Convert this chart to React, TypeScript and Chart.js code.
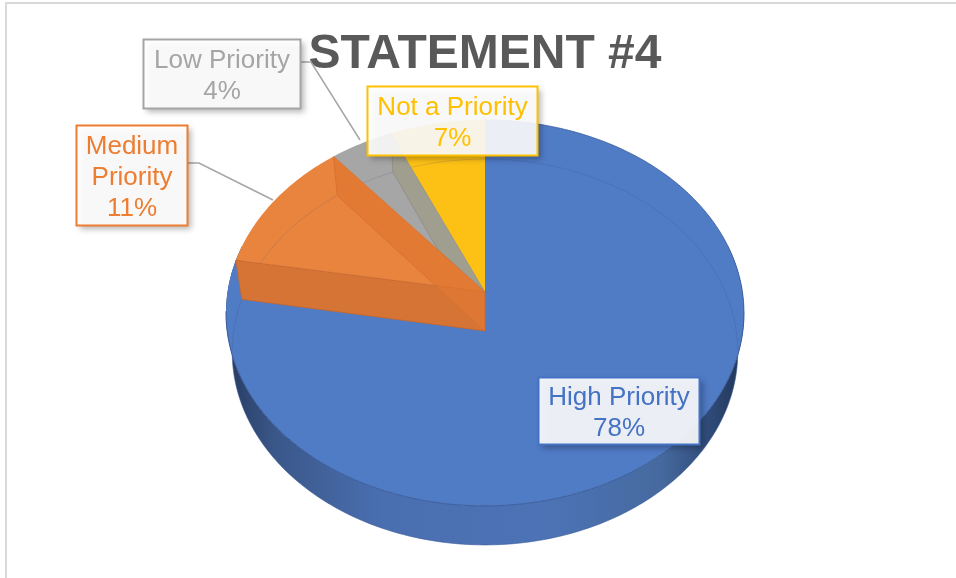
import React, { useEffect, useRef } from "react";
import { Chart, registerables } from "chart.js";

Chart.register(...registerables);

const categories = ["High Priority", "Medium Priority", "Low Priority", "Not a Priority"];
const values = [77.7, 11.3, 4.4, 6.6];
const sliceColors = ["#507BC5", "#E9843F", "#A6A6A6", "#FDC116"];
const labelColors = ["#4472C4", "#ED7D31", "#A5A5A5", "#FFC000"];
const labelLines = [
  ["High Priority"],
  ["Medium", "Priority"],
  ["Low Priority"],
  ["Not a Priority"],
];
const FONT = '"Liberation Sans", Arial, sans-serif';

// perspective of the tilted disc, as ratios of the pie radius
const K = 0.1088;
const TOP_RX = 1.334;
const BOT_RX = 1.302;
const RY = 0.988;
const APEX_UP = 0.109;
const DEPTH = 0.202;

// label boxes [x, y, w, h] in page pixels
const boxes = [
  [538.5, 377.5, 161, 67],
  [76.5, 125.5, 111, 100],
  [143.5, 39.5, 157, 69],
  [367.5, 86.5, 170, 69],
];
const leaders = [
  [],
  [[188, 163], [199, 163], [273, 200]],
  [[300, 62], [311, 62], [360, 140]],
  [],
];

function makeProjector(el: any) {
  const r = el.outerRadius;
  const cx = el.x;
  const ay = el.y - APEX_UP * r;
  const top = (a: number) => {
    const u = Math.cos(a), v = Math.sin(a), d = 1 - K * v;
    return [cx + (TOP_RX * r * u) / d, ay + (RY * r * v) / d];
  };
  const bot = (a: number) => {
    const u = Math.cos(a), v = Math.sin(a), d = 1 - K * v;
    return [cx + (BOT_RX * r * u) / d, ay + DEPTH * r + (RY * r * v) / d];
  };
  return { top, bot, apexTop: [cx, ay], apexBot: [cx, ay + DEPTH * r] };
}

function arcPoints(fn: (a: number) => number[], a0: number, a1: number) {
  const n = Math.max(2, Math.ceil(Math.abs(a1 - a0) * 60));
  const out: number[][] = [];
  for (let i = 0; i <= n; i++) out.push(fn(a0 + ((a1 - a0) * i) / n));
  return out;
}

function poly(ctx: CanvasRenderingContext2D, pts: number[][], close = true) {
  ctx.beginPath();
  pts.forEach((p, i) => (i ? ctx.lineTo(p[0], p[1]) : ctx.moveTo(p[0], p[1])));
  if (close) ctx.closePath();
}

const pie3d = {
  id: "pie3d",
  beforeDatasetDraw() {
    return false;
  },
  afterDatasetsDraw(chart: any) {
    const ctx: CanvasRenderingContext2D = chart.ctx;
    const arcs = chart.getDatasetMeta(0).data;
    const P = makeProjector(arcs[0]);
    const r = arcs[0].outerRadius;
    const cx = arcs[0].x;
    ctx.save();

    // side of the disc
    const g = ctx.createLinearGradient(cx - 1.3 * r, 0, cx + 1.3 * r, 0);
    g.addColorStop(0, "#2a4067");
    g.addColorStop(0.08, "#3a5789");
    g.addColorStop(0.3, "#4a6fb1");
    g.addColorStop(0.62, "#4c73b6");
    g.addColorStop(0.85, "#466a9f");
    g.addColorStop(0.95, "#2f4a78");
    g.addColorStop(1, "#243a5e");
    const a0 = -0.25, a1 = Math.PI + 0.25;
    poly(ctx, [...arcPoints(P.top, a0, a1), ...arcPoints(P.bot, a1, a0)]);
    ctx.fillStyle = g;
    ctx.fill();
    poly(ctx, arcPoints(P.bot, 0, Math.PI), false);
    ctx.strokeStyle = "rgba(58,90,150,.6)";
    ctx.lineWidth = 1;
    ctx.stroke();

    // top faces
    arcs.forEach((el: any, i: number) => {
      poly(ctx, [P.apexTop, ...arcPoints(P.top, el.startAngle, el.endAngle)]);
      ctx.fillStyle = sliceColors[i];
      ctx.fill();
    });

    // front rim line and see-through far edge
    poly(ctx, arcPoints(P.top, 0.1, Math.PI - 0.1), false);
    ctx.strokeStyle = "#3a5c99";
    ctx.stroke();
    poly(ctx, arcPoints(P.top, -Math.PI / 2, 0.1), false);
    ctx.strokeStyle = "rgba(50,85,150,.7)";
    ctx.stroke();
    poly(ctx, arcPoints(P.bot, Math.PI - 0.1, Math.PI * 2 + 0.1), false);
    ctx.strokeStyle = "rgba(50,70,110,.16)";
    ctx.stroke();

    // cut walls: low priority, then medium priority far and near sides
    const wall = (a: number, fill: string, edge: string) => {
      poly(ctx, [P.top(a), P.bot(a), P.apexBot, P.apexTop]);
      ctx.fillStyle = fill;
      ctx.fill();
      ctx.strokeStyle = edge;
      ctx.lineWidth = 0.8;
      ctx.stroke();
    };
    wall(arcs[2].endAngle, "#A09E8F", "rgba(120,120,110,.5)");
    wall(arcs[1].endAngle, "#E07A36", "rgba(205,105,40,.6)");
    wall(arcs[1].startAngle, "#D67436", "#C9662A");
    wall(arcs[1].endAngle, "rgba(228,122,50,.55)", "rgba(205,105,40,.25)");
    ctx.restore();

    // leaders
    ctx.save();
    leaders.forEach((pts) => {
      if (!pts.length) return;
      poly(ctx, pts, false);
      ctx.strokeStyle = "#A6A6A6";
      ctx.lineWidth = 1.5;
      ctx.stroke();
    });

    // data labels
    arcs.forEach((_: any, i: number) => {
      const [x, y, w, h] = boxes[i];
      ctx.save();
      ctx.shadowColor = "rgba(0,0,0,.32)";
      ctx.shadowBlur = 6;
      ctx.shadowOffsetX = 3;
      ctx.shadowOffsetY = 3;
      ctx.fillStyle = "rgba(255,255,255,.9)";
      ctx.fillRect(x, y, w, h);
      ctx.shadowColor = "transparent";
      ctx.strokeStyle = labelColors[i];
      ctx.lineWidth = 2;
      ctx.strokeRect(x, y, w, h);
      ctx.restore();
      const lines = [...labelLines[i], Math.round(values[i]) + "%"];
      ctx.fillStyle = labelColors[i];
      ctx.font = "26px " + FONT;
      ctx.textAlign = "center";
      ctx.textBaseline = "middle";
      const mid = y + h / 2 + 2;
      lines.forEach((t, j) => {
        ctx.fillText(t, x + w / 2, mid + (j - (lines.length - 1) / 2) * 31);
      });
    });
    ctx.restore();
  },
};

export default function App() {
  const ref = useRef<HTMLCanvasElement>(null);
  useEffect(() => {
    document.body.style.margin = "0";
    const chart = new Chart(ref.current as HTMLCanvasElement, {
      type: "pie",
      data: {
        labels: categories,
        datasets: [{ data: values, backgroundColor: sliceColors, borderWidth: 0 }],
      },
      options: {
        responsive: false,
        animation: false,
        layout: { padding: { left: 14, bottom: 72 } },
        plugins: {
          legend: { display: false },
          tooltip: { enabled: false },
          title: {
            display: true,
            text: "STATEMENT #4",
            color: "#595959",
            font: { family: FONT, size: 48, weight: "bold" },
            padding: { top: 26, bottom: 36.4 },
          },
        },
      },
      plugins: [pie3d],
    } as any);
    return () => chart.destroy();
  }, []);
  return (
    <div style={{ position: "relative", width: 956, height: 578, overflow: "hidden", background: "#fff" }}>
      <div
        style={{
          position: "absolute",
          left: 5,
          top: 2,
          right: 0,
          bottom: 0,
          borderTop: "2px solid #d9d9d9",
          borderLeft: "2px solid #d9d9d9",
        }}
      />
      <canvas ref={ref} width={956} height={578} style={{ position: "absolute", left: 0, top: 0, display: "block" }} />
    </div>
  );
}
